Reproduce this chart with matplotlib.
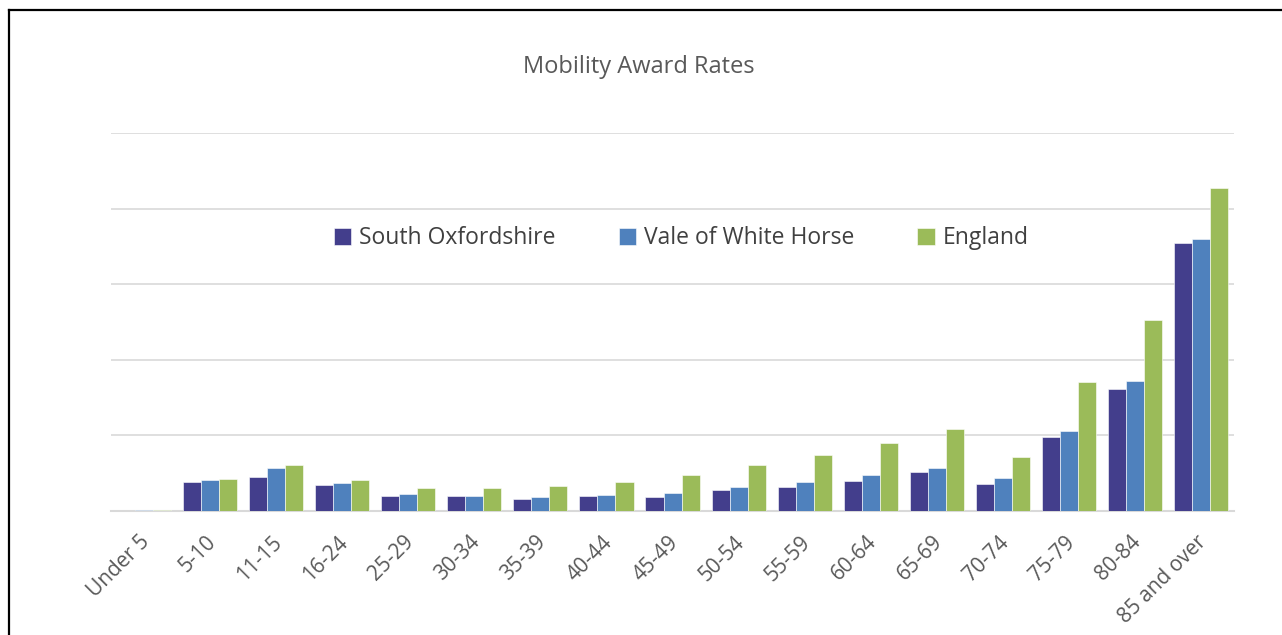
import matplotlib.pyplot as plt
import matplotlib.transforms as mtransforms
import numpy as np

# Age bands and award rates (gridlines every 2 units)
ages = ["Under 5", "5-10", "11-15", "16-24", "25-29", "30-34", "35-39", "40-44",
        "45-49", "50-54", "55-59", "60-64", "65-69", "70-74", "75-79", "80-84",
        "85 and over"]
south_oxon = [0.01, 0.77, 0.90, 0.69, 0.40, 0.39, 0.32, 0.39, 0.36, 0.56,
              0.63, 0.80, 1.04, 0.72, 1.97, 3.22, 7.09]
vale_wh = [0.03, 0.82, 1.13, 0.74, 0.44, 0.40, 0.36, 0.43, 0.48, 0.63,
           0.76, 0.95, 1.14, 0.88, 2.13, 3.45, 7.20]
england = [0.03, 0.85, 1.23, 0.81, 0.60, 0.61, 0.66, 0.76, 0.95, 1.21,
           1.48, 1.80, 2.17, 1.44, 3.42, 5.07, 8.55]

series = [("South Oxfordshire", south_oxon, "#433E8C"),
          ("Vale of White Horse", vale_wh, "#4F81BD"),
          ("England", england, "#9BBB59")]

plt.rcParams['font.family'] = ['Open Sans', 'DejaVu Sans']
text_col = "#595959"

fig = plt.figure(figsize=(12.82, 6.35), dpi=100)
ax = fig.add_axes([0.0866, 0.1953, 0.876, 0.5945])

x = np.arange(len(ages))
w = 0.273
for i, (name, vals, col) in enumerate(series):
    ax.bar(x + (i - 1) * w, vals, width=w, color=col, label=name,
           edgecolor="white", linewidth=0.4, zorder=3)

ax.set_xlim(-0.5, len(ages) - 0.5)
ax.set_ylim(0, 10)
ax.set_yticks(np.arange(0, 11, 2))
ax.set_yticklabels([])
ax.tick_params(axis="y", length=0)
ax.tick_params(axis="x", length=0, pad=7)
ax.grid(axis="y", color="#D9D9D9", linewidth=1.2, zorder=0)
for s in ["top", "right", "left"]:
    ax.spines[s].set_visible(False)
ax.spines["bottom"].set_color("#D9D9D9")
ax.spines["bottom"].set_linewidth(1.5)

ax.set_xticks(x)
ax.set_xticklabels(ages, rotation=45, ha="right", va="top",
                   rotation_mode="anchor", fontsize=15, color=text_col)
# nudge the rotated labels down/left like the reference
shift = mtransforms.ScaledTranslation(-0.05, -0.11, fig.dpi_scale_trans)
for lab in ax.get_xticklabels():
    lab.set_transform(lab.get_transform() + shift)

fig.text(0.4985, 0.895, "Mobility Award Rates", ha="center", va="center",
         fontsize=17, color=text_col)

fig.legend(loc="center", bbox_to_anchor=(0.5315, 0.625), ncol=3, frameon=False,
           fontsize=16.5, labelcolor="#404040", handlelength=0.75,
           handleheight=0.75, handletextpad=0.35, columnspacing=2.75)

# Black frame around the chart (left and top visible in the reference)
fig.add_artist(plt.Line2D([0.0074, 0.0074], [0, 0.984], color="black",
                          linewidth=1.6, transform=fig.transFigure))
fig.add_artist(plt.Line2D([0.0074, 1], [0.984, 0.984], color="black",
                          linewidth=1.6, transform=fig.transFigure))

fig.savefig("out.png", dpi=100)
